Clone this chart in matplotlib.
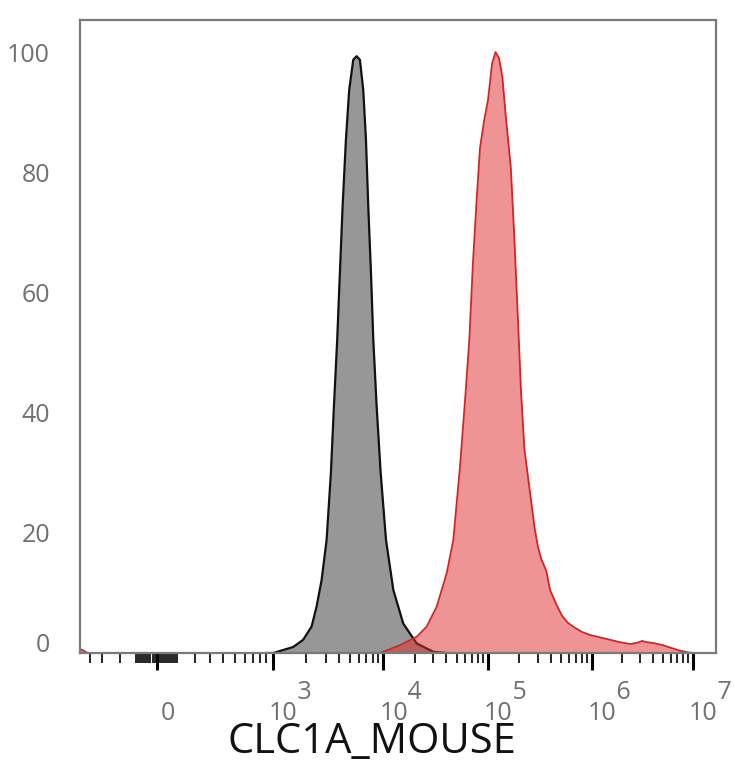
import numpy as np
import matplotlib
matplotlib.use("Agg")
import matplotlib.pyplot as plt
from matplotlib.ticker import FixedLocator, FixedFormatter
from matplotlib.transforms import ScaledTranslation

plt.rcParams['font.family'] = ['Open Sans', 'DejaVu Sans']

# ---------------- data ----------------
gray_x = [900, 1006, 1527, 1880, 2240, 2484, 2758, 3062, 3350, 3565, 3818, 4037,
          4272, 4577, 4902, 5330, 5717, 6125, 6562, 6945, 7286, 7709, 8090, 8674,
          9426, 10570, 12420, 15450, 20770, 29990, 40250]
gray_y = [0, 0, 1.0, 2.2, 4.4, 7.7, 12.1, 18.8, 30.0, 41.0, 52.1, 63.2,
          74.3, 85.4, 93.7, 98.7, 99.3, 98.7, 93.7, 85.4, 74.3, 63.2, 52.1, 41.0,
          30.0, 18.8, 10.5, 4.9, 1.6, 0.2, 0]

red_x = [-520, -470, -420, 0, 5000, 9290, 14380, 20800, 25900, 32270, 40270, 46560,
         53950, 60260, 66200, 71800, 77600, 83800, 91600, 100000, 109300, 118000,
         127600, 137500, 148200, 165600, 178500, 192600, 207600, 223900, 250600,
         280600, 302600, 326000, 364400, 394800, 450700, 514800, 587600, 686600,
         801500, 957000, 1.20e6, 1.51e6, 1.89e6, 2.38e6, 2.79e6, 3.13e6, 3.51e6,
         4.21e6, 5.05e6, 6.20e6, 7.43e6, 8.92e6, 1.02e7]
red_y = [0.8, 0.5, 0.0, 0.0, 0.0, 0.0, 1.3, 2.7, 4.4, 7.7, 13.3, 18.8,
         31.0, 42.0, 52.0, 65.0, 75.0, 84.0, 88.5, 92.0, 98.0, 100.0,
         99.0, 95.8, 89.3, 80.8, 69.7, 56.7, 43.6, 33.9, 27.4,
         20.8, 17.6, 15.6, 13.6, 10.5, 8.2, 6.2, 5.0, 4.2,
         3.5, 3.0, 2.6, 2.2, 1.8, 1.5, 1.7, 2.0, 1.8,
         1.6, 1.3, 0.8, 0.4, 0.1, 0.0]

major_ticks = [0, 1e3, 1e4, 1e5, 1e6, 1e7]
FS = '\u2007'
major_labels = ['\n0'] + [FS + FS + e + '\n10' for e in ['3', '4', '5', '6', '7']]
y_ticks = [0, 20, 40, 60, 80, 100]
y_labels = ['0', '20', '40', '60', '80', '100']
x_label = 'CLC1A_MOUSE'

minor_ticks = ([-400, -300, -200, -100] + list(range(-90, 0, 10)) +
               list(range(10, 100, 10)) + list(range(100, 1000, 100)) +
               [k * 10 ** d for d in range(3, 7) for k in range(2, 10)])

# ---------------- biexponential-like display scale ----------------
SCALE_X = np.array([-1000, -400, -300, -200, -100, 0, 100, 200, 300, 400, 500, 600,
                    700, 800, 900, 1e3, 1e4, 1e5, 1e6, 1e7, 1e8])
SCALE_P = np.array([45, 90, 102.5, 120, 136, 157, 177, 195, 210.5, 223.5, 235, 245,
                    253, 260, 266.5, 273, 383.5, 488, 592, 693, 794])
W = 150.0


def _g(x):
    return np.arcsinh(np.asarray(x, dtype=float) / W)


GA = _g(SCALE_X)


def _interp(v, xp, fp):
    v = np.asarray(v, dtype=float)
    out = np.interp(v, xp, fp)
    lo = v < xp[0]
    hi = v > xp[-1]
    out = np.where(lo, fp[0] + (v - xp[0]) * (fp[1] - fp[0]) / (xp[1] - xp[0]), out)
    out = np.where(hi, fp[-1] + (v - xp[-1]) * (fp[-1] - fp[-2]) / (xp[-1] - xp[-2]), out)
    return out


def fwd(x):
    return _interp(_g(x), GA, SCALE_P)


def inv(p):
    return W * np.sinh(_interp(p, SCALE_P, GA))


# ---------------- figure ----------------
fig = plt.figure(figsize=(7.34, 7.68), dpi=100)
ax = fig.add_axes([80 / 734, 1 - 653 / 768, (715.7 - 80) / 734, (653 - 19.5) / 768])
ax.set_xscale('function', functions=(fwd, inv))
ax.set_xlim(float(inv(80)), float(inv(715.7)))
ax.set_ylim(0, (653 - 19.5) / 6.01)

ax.fill_between(gray_x, gray_y, 0, color='#979797', lw=0, zorder=2)
ax.plot(gray_x, gray_y, color='#111111', lw=1.6, zorder=3, solid_joinstyle='round')
ax.fill_between(red_x, red_y, 0, color=(0.88, 0.17, 0.17), alpha=0.5, lw=0, zorder=4)
ax.plot(red_x, red_y, color='#d62424', lw=1.3, zorder=5, solid_joinstyle='round')

for s in ax.spines.values():
    s.set_color('#7a7a7a')
    s.set_linewidth(1.6)
    s.set_zorder(6)

ax.xaxis.set_major_locator(FixedLocator(major_ticks))
ax.xaxis.set_major_formatter(FixedFormatter(major_labels))
ax.xaxis.set_minor_locator(FixedLocator(minor_ticks))
ax.tick_params(axis='x', which='major', direction='out', length=12, width=2.2,
               color='black', pad=7.5, labelsize=18, labelcolor='#707070')
ax.tick_params(axis='x', which='minor', direction='out', length=7, width=1.2,
               color='black')
ax.set_yticks(y_ticks)
ax.set_yticklabels(y_labels)
ax.tick_params(axis='y', length=0, pad=21.6, labelsize=18, labelcolor='#707070')

for i, lbl in enumerate(ax.get_xticklabels()):
    lbl.set_ha('left')
    lbl.set_multialignment('left')
    lbl.set_linespacing(0.79)
    dx = 4 if i == 0 else -4
    lbl.set_transform(lbl.get_transform() +
                      ScaledTranslation(dx / 100, 0, fig.dpi_scale_trans))

ylbls = ax.get_yticklabels()
ylbls[0].set_transform(ylbls[0].get_transform() +
                       ScaledTranslation(0, 11 / 100, fig.dpi_scale_trans))

ax.set_xlabel(x_label, fontsize=30, color='#111111')
ax.xaxis.set_label_coords(0.4586, -0.107)

fig.savefig('out.png', dpi=100)
